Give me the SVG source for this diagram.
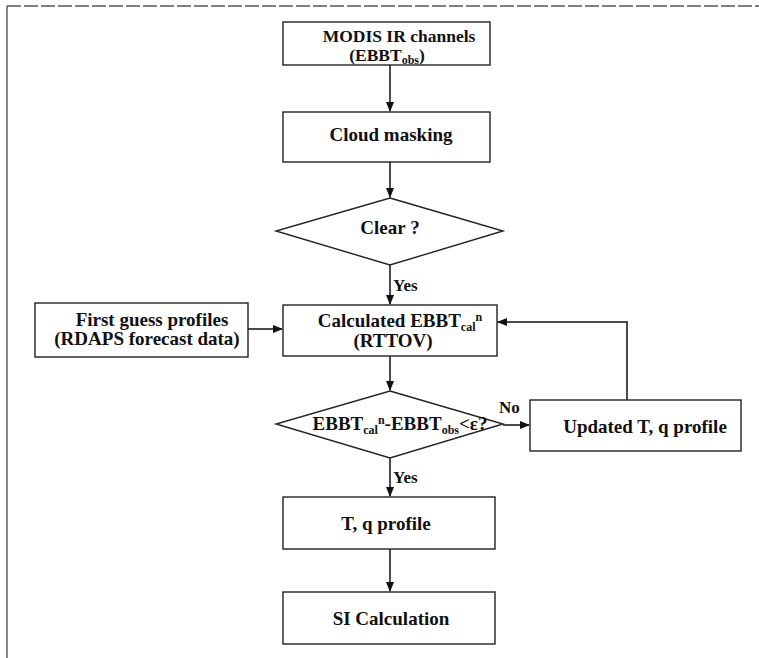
<svg xmlns="http://www.w3.org/2000/svg" width="759" height="658" viewBox="0 0 759 658">
<defs>
<marker id="ah" markerWidth="10" markerHeight="8" refX="9" refY="4" orient="auto" markerUnits="userSpaceOnUse">
<path d="M0,0 L10,4 L0,8 Z" fill="#111"/>
</marker>
<style>
.box{fill:#fff;stroke:#222;stroke-width:1.4}
.t{font-family:"Liberation Serif","Times New Roman",serif;font-weight:bold;font-size:19px;fill:#111;text-anchor:middle}
.m{font-size:17.5px}
.lbl{font-family:"Liberation Serif","Times New Roman",serif;font-weight:bold;font-size:17px;fill:#111}
.c{fill:none;stroke:#111;stroke-width:1.5}
.s{font-size:12px}
</style>
</defs>
<rect width="759" height="658" fill="#fff"/>
<g id="frame">
<line x1="7" y1="6" x2="759" y2="6" stroke="#555" stroke-width="1.3" stroke-dasharray="14 3"/>
<line x1="7" y1="6" x2="7" y2="658" stroke="#444" stroke-width="1.3"/>
</g>
<g id="connectors">
<line class="c" x1="390" y1="65" x2="390" y2="111" marker-end="url(#ah)"/>
<line class="c" x1="390" y1="162" x2="390" y2="197" marker-end="url(#ah)"/>
<line class="c" x1="390" y1="265" x2="390" y2="304" marker-end="url(#ah)"/>
<line class="c" x1="248" y1="329" x2="282" y2="329" marker-end="url(#ah)"/>
<line class="c" x1="390" y1="356" x2="390" y2="390" marker-end="url(#ah)"/>
<line class="c" x1="503" y1="425" x2="529" y2="425" marker-end="url(#ah)"/>
<polyline class="c" points="627,400 627,322 498,322" marker-end="url(#ah)"/>
<line class="c" x1="390" y1="458" x2="390" y2="496" marker-end="url(#ah)"/>
<line class="c" x1="390" y1="549" x2="390" y2="591" marker-end="url(#ah)"/>
<text class="lbl" x="393" y="291">Yes</text>
<text class="lbl" x="499" y="413">No</text>
<text class="lbl" x="393" y="483">Yes</text>
</g>
<g id="modis">
<rect class="box" x="283" y="22" width="207" height="43"/>
<text class="t m" x="399" y="42">MODIS IR channels</text>
<text class="t m" x="387" y="61">(EBBT<tspan class="s" dy="3">obs</tspan><tspan dy="-3">)</tspan></text>
</g>
<g id="cloud">
<rect class="box" x="283" y="112" width="207" height="50"/>
<text class="t" x="391" y="141">Cloud masking</text>
</g>
<g id="clear">
<polygon class="box" points="390,198 503,231 390,265 276,231"/>
<text class="t" x="390" y="234">Clear ?</text>
</g>
<g id="firstguess">
<rect class="box" x="35" y="303" width="213" height="54"/>
<text class="t" x="152" y="326">First guess profiles</text>
<text class="t" x="147" y="345">(RDAPS forecast data)</text>
</g>
<g id="calculated">
<rect class="box" x="283" y="305" width="214" height="51"/>
<text class="t" x="400" y="327">Calculated EBBT<tspan class="s" dy="4">cal</tspan><tspan class="s" dy="-10">n</tspan></text>
<text class="t" x="393" y="347">(RTTOV)</text>
</g>
<g id="check">
<polygon class="box" points="390,391 503,424 390,458 276,424"/>
<text class="t" x="400" y="430">EBBT<tspan class="s" dy="4">cal</tspan><tspan class="s" dy="-10">n</tspan><tspan dy="6">-EBBT</tspan><tspan class="s" dy="4">obs</tspan><tspan dy="-4">&lt;ε?</tspan></text>
</g>
<g id="updated">
<rect class="box" x="530" y="400" width="211" height="51"/>
<text class="t" x="645" y="433">Updated T, q profile</text>
</g>
<g id="tq">
<rect class="box" x="283" y="497" width="212" height="52"/>
<text class="t" x="386" y="530">T, q profile</text>
</g>
<g id="si">
<rect class="box" x="283" y="592" width="212" height="52"/>
<text class="t" x="391" y="625">SI Calculation</text>
</g>
</svg>
